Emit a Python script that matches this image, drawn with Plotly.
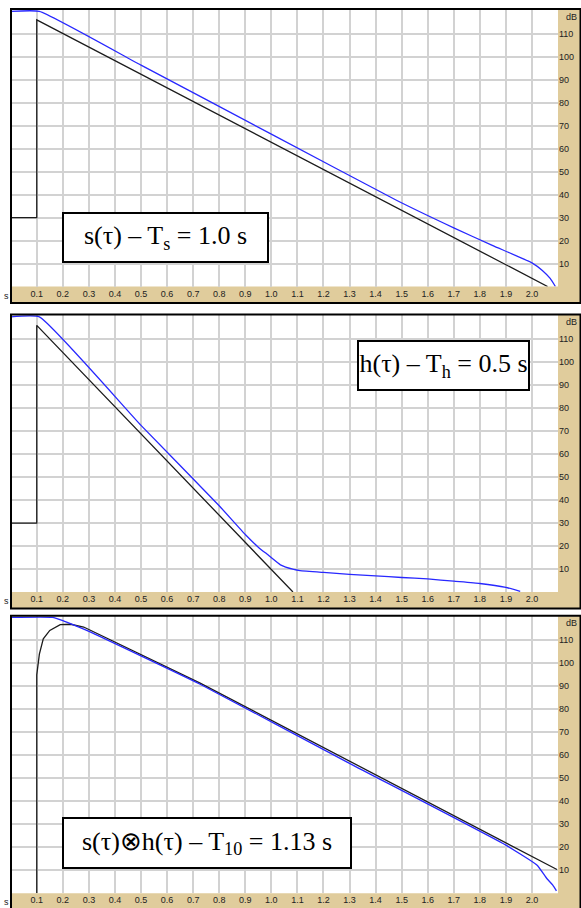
import plotly.graph_objects as go

# ---- decay curves (time in s, level in dB) ----
# panel 1: source s(tau), Ts = 1.0 s
s_meas_t = [0.0, 0.11, 0.5, 1.0, 1.48, 1.7, 1.85, 2.0, 2.04, 2.07, 2.09]
s_meas_db = [119.7, 119.7, 96.3, 66.3, 37.5, 25.5, 17.8, 10.3, 7.0, 3.5, 0.0]
s_ref_t = [0.0, 0.1, 0.1, 2.06]
s_ref_db = [30.0, 30.0, 116.0, 0.0]

# panel 2: h(tau), Th = 0.5 s
h_meas_t = [0.0, 0.11, 0.5, 0.8, 0.9, 0.95, 0.983, 1.035, 1.086, 1.11, 1.2, 1.3,
            1.4, 1.5, 1.6, 1.7, 1.8, 1.9, 1.955]
h_meas_db = [119.7, 119.7, 72.5, 37.5, 25.0, 19.5, 16.5, 11.8, 9.8, 9.3, 8.5, 7.7,
             7.0, 6.3, 5.7, 4.7, 3.7, 2.0, 0.3]
h_ref_t = [0.0, 0.1, 0.1, 1.083]
h_ref_db = [30.0, 30.0, 116.0, 0.0]

# panel 3: convolution s(tau) x h(tau), T10 = 1.13 s
c_meas_t = [0.0, 0.16, 0.2, 0.25, 0.3, 0.727, 1.3, 1.9, 2.02, 2.057, 2.08, 2.094]
c_meas_db = [120.0, 120.0, 118.6, 116.3, 113.9, 90.9, 56.5, 20.9, 12.2, 6.4, 3.5, 1.0]
c_ref_t = [0.1, 0.1, 0.11, 0.125, 0.15, 0.19, 0.23, 0.28, 0.727, 2.096]
c_ref_db = [0.0, 95.0, 104.0, 110.7, 114.3, 116.8, 117.0, 115.8, 91.4, 10.3]

x_ticks = [round(0.1 * i, 1) for i in range(1, 21)]
x_tick_text = [f"{v:.1f}" for v in x_ticks]
y_ticks = list(range(10, 120, 10))
y_tick_text = [str(v) for v in y_ticks]

labels = [
    "s(τ) – T<sub>s</sub> = 1.0 s",
    "h(τ) – T<sub>h</sub> = 0.5 s",
    "s(τ)⊗h(τ) – T<sub>10</sub> = 1.13 s",
]
# label box centre (px) and size (px)
label_boxes = [
    (165.8, 237.2, 203, 47),
    (443.5, 365.4, 169, 47),
    (206.7, 843.2, 286, 48),
]

panels = [
    (s_meas_t, s_meas_db, s_ref_t, s_ref_db),
    (h_meas_t, h_meas_db, h_ref_t, h_ref_db),
    (c_meas_t, c_meas_db, c_ref_t, c_ref_db),
]

W, H = 581, 908
TOPS = [9.5, 315.0, 616.2]
PLOT_H = 277.0
STRIP_H = 16.0
X_LEFT, X_RIGHT = 10.7, 558.0
TAN = "#e0cc9c"
GRID = "#d2d2d2"


def fx(p):
    return p / W


def fy(p):
    return 1 - p / H


fig = go.Figure()
shapes = []
annotations = []
layout_axes = {}

for i, (mt, mdb, rt, rdb) in enumerate(panels):
    n = "" if i == 0 else str(i + 1)
    top = TOPS[i]
    bot = top + PLOT_H

    fig.add_trace(go.Scatter(x=rt, y=rdb, mode="lines", xaxis="x" + n, yaxis="y" + n,
                             line=dict(color="#1c1c1c", width=1.3), showlegend=False,
                             hoverinfo="skip"))
    fig.add_trace(go.Scatter(x=mt, y=mdb, mode="lines", xaxis="x" + n, yaxis="y" + n,
                             line=dict(color="#2828ff", width=1.3,
                                       shape="spline", smoothing=0.4),
                             showlegend=False, hoverinfo="skip"))

    layout_axes["xaxis" + n] = dict(
        domain=[fx(X_LEFT), fx(X_RIGHT)], range=[0, 2.1], anchor="y" + n,
        tickvals=x_ticks, ticktext=x_tick_text, showgrid=True, gridcolor=GRID,
        gridwidth=1.5, zeroline=False, showline=False, ticks="",
        tickfont=dict(family="Liberation Sans", size=9, color="#222"),
        fixedrange=True,
    )
    layout_axes["yaxis" + n] = dict(
        domain=[fy(bot), fy(top)], range=[0, 120.5], anchor="x" + n, side="right",
        tickvals=y_ticks, ticktext=y_tick_text, showgrid=True, gridcolor=GRID,
        gridwidth=1.5, zeroline=False, showline=False, ticks="",
        tickfont=dict(family="Liberation Sans", size=9, color="#222"),
        fixedrange=True,
    )

    # tan scale strips (bottom and right) drawn behind the grid
    shapes.append(dict(type="rect", xref="paper", yref="paper", layer="below",
                       x0=fx(X_LEFT), x1=fx(X_RIGHT), y0=fy(bot + STRIP_H), y1=fy(bot),
                       fillcolor=TAN, line=dict(width=0)))
    shapes.append(dict(type="rect", xref="paper", yref="paper", layer="below",
                       x0=fx(X_RIGHT), x1=fx(W), y0=fy(bot + STRIP_H), y1=fy(top),
                       fillcolor=TAN, line=dict(width=0)))
    # panel frame
    shapes.append(dict(type="rect", xref="paper", yref="paper", layer="above",
                       x0=fx(11), x1=fx(580.5), y0=fy(bot + STRIP_H + 0.5), y1=fy(top - 0.5),
                       line=dict(color="black", width=2)))

    annotations.append(dict(xref="paper", yref="paper", x=fx(6), y=fy(bot + 9),
                            text="s", showarrow=False, xanchor="center", yanchor="middle",
                            font=dict(family="Liberation Sans", size=9, color="#222")))
    annotations.append(dict(xref="paper", yref="paper", x=fx(564), y=fy(top + 7),
                            text="dB", showarrow=False, xanchor="left", yanchor="middle",
                            font=dict(family="Liberation Sans", size=9, color="#222")))

    cx, cy, bw, bh = label_boxes[i]
    annotations.append(dict(xref="paper", yref="paper", x=fx(cx), y=fy(cy),
                            text=labels[i], showarrow=False, xanchor="center",
                            yanchor="middle", width=bw, height=bh, borderpad=0,
                            bordercolor="black", borderwidth=2, bgcolor="white",
                            font=dict(family="Liberation Serif", size=26, color="black")))

fig.update_layout(
    width=W, height=H, margin=dict(l=0, r=0, t=0, b=0),
    paper_bgcolor="white", plot_bgcolor="white",
    shapes=shapes, annotations=annotations, **layout_axes,
)

fig.write_html("out.html")
